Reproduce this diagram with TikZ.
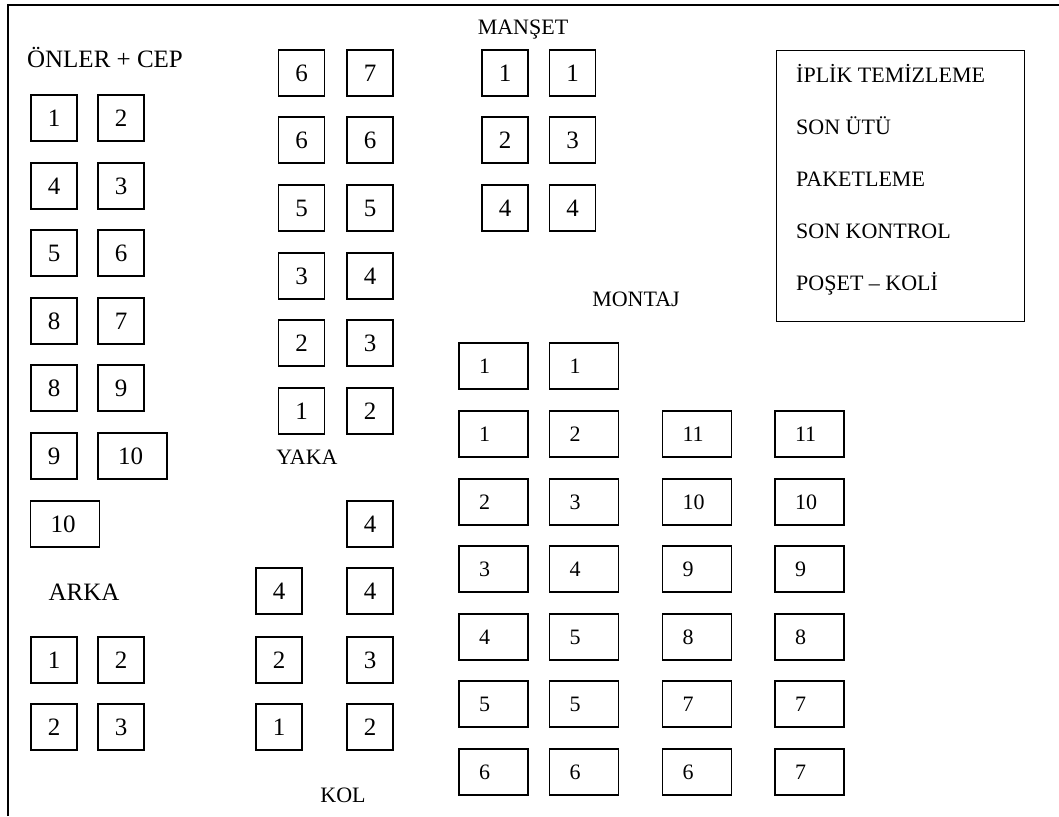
\documentclass[tikz,border=0pt]{standalone}
\usepackage{fontspec}
\setmainfont{Liberation Serif}
\newcommand{\numsz}{\fontsize{25}{30}\selectfont}
\newcommand{\labsz}{\fontsize{22}{26}\selectfont}

\begin{document}
\begin{tikzpicture}[x=1pt,y=-1pt,
    kutu/.style={draw, line width=1.2pt, minimum size=46pt, inner sep=0pt, font=\numsz},
    genis/.style={draw, line width=1.2pt, minimum height=46pt, text width=29pt, inner xsep=20pt, inner ysep=0pt, align=left, font=\labsz},
    baslik/.style={font=\labsz, inner sep=0pt, anchor=base}]
    \useasboundingbox (0,0) rectangle (1059,816);
    % frame
    \draw[line width=1.5pt] (8,816) -- (8,5) -- (1059,5);

    % Onler + cep
    \node[baslik, font=\numsz] (onler) at (105,67) {ÖNLER + CEP};
    \node[kutu] (o1a) at (54,118) {1};
    \node[kutu] (o1b) at (121,118) {2};
    \node[kutu] (o2a) at (54,186) {4};
    \node[kutu] (o2b) at (121,186) {3};
    \node[kutu] (o3a) at (54,253) {5};
    \node[kutu] (o3b) at (121,253) {6};
    \node[kutu] (o4a) at (54,321) {8};
    \node[kutu] (o4b) at (121,321) {7};
    \node[kutu] (o5a) at (54,388) {8};
    \node[kutu] (o5b) at (121,388) {9};
    \node[kutu] (o6a) at (54,456) {9};
    \node[genis, font=\numsz] (o6b) at (132.5,456) {10};
    \node[genis, font=\numsz] (o7a) at (65,524) {10};

    % Arka
    \node[baslik, font=\numsz] (arka) at (84,600) {ARKA};
    \node[kutu] (a1a) at (54,660) {1};
    \node[kutu] (a1b) at (121,660) {2};
    \node[kutu] (a2a) at (54,727) {2};
    \node[kutu] (a2b) at (121,727) {3};

    % Yaka
    \node[kutu] (y1a) at (301.5,73) {6};
    \node[kutu] (y1b) at (370,73) {7};
    \node[kutu] (y2a) at (301.5,140) {6};
    \node[kutu] (y2b) at (370,140) {6};
    \node[kutu] (y3a) at (301.5,208) {5};
    \node[kutu] (y3b) at (370,208) {5};
    \node[kutu] (y4a) at (301.5,276) {3};
    \node[kutu] (y4b) at (370,276) {4};
    \node[kutu] (y5a) at (301.5,343) {2};
    \node[kutu] (y5b) at (370,343) {3};
    \node[kutu] (y6a) at (301.5,411) {1};
    \node[kutu] (y6b) at (370,411) {2};
    \node[baslik] (yaka) at (307,464) {YAKA};

    % Kol
    \node[kutu] (k1b) at (370,524) {4};
    \node[kutu] (k2a) at (279,591) {4};
    \node[kutu] (k2b) at (370,591) {4};
    \node[kutu] (k3a) at (279,660) {2};
    \node[kutu] (k3b) at (370,660) {3};
    \node[kutu] (k4a) at (279,727) {1};
    \node[kutu] (k4b) at (370,727) {2};
    \node[baslik] (kol) at (343,802) {KOL};

    % Manset
    \node[baslik] (manset) at (523,35) {MANŞET};
    \node[kutu] (m1a) at (505,73) {1};
    \node[kutu] (m1b) at (572.5,73) {1};
    \node[kutu] (m2a) at (505,140) {2};
    \node[kutu] (m2b) at (572.5,140) {3};
    \node[kutu] (m3a) at (505,208) {4};
    \node[kutu] (m3b) at (572.5,208) {4};

    % Montaj
    \node[baslik] (montaj) at (636,306) {MONTAJ};
    \node[genis] (t1a) at (493.5,366) {1};
    \node[genis] (t1b) at (584,366) {1};
    \node[genis] (t2a) at (493.5,434) {1};
    \node[genis] (t2b) at (584,434) {2};
    \node[genis] (t2c) at (697,434) {11};
    \node[genis] (t2d) at (809.5,434) {11};
    \node[genis] (t3a) at (493.5,502) {2};
    \node[genis] (t3b) at (584,502) {3};
    \node[genis] (t3c) at (697,502) {10};
    \node[genis] (t3d) at (809.5,502) {10};
    \node[genis] (t4a) at (493.5,569) {3};
    \node[genis] (t4b) at (584,569) {4};
    \node[genis] (t4c) at (697,569) {9};
    \node[genis] (t4d) at (809.5,569) {9};
    \node[genis] (t5a) at (493.5,637) {4};
    \node[genis] (t5b) at (584,637) {5};
    \node[genis] (t5c) at (697,637) {8};
    \node[genis] (t5d) at (809.5,637) {8};
    \node[genis] (t6a) at (493.5,704) {5};
    \node[genis] (t6b) at (584,704) {5};
    \node[genis] (t6c) at (697,704) {7};
    \node[genis] (t6d) at (809.5,704) {7};
    \node[genis] (t7a) at (493.5,772) {6};
    \node[genis] (t7b) at (584,772) {6};
    \node[genis] (t7c) at (697,772) {6};
    \node[genis] (t7d) at (809.5,772) {7};

    % son islemler
    \node[draw, line width=1.2pt, minimum width=248pt, minimum height=271pt, anchor=north west] (sonislem) at (776,50) {};
    \node[font=\labsz, inner sep=0pt, anchor=base west] (iplik) at (796,82) {İPLİK TEMİZLEME};
    \node[font=\labsz, inner sep=0pt, anchor=base west] (utu) at (796,134) {SON ÜTÜ};
    \node[font=\labsz, inner sep=0pt, anchor=base west] (paket) at (796,186) {PAKETLEME};
    \node[font=\labsz, inner sep=0pt, anchor=base west] (kontrol) at (796,238) {SON KONTROL};
    \node[font=\labsz, inner sep=0pt, anchor=base west] (koli) at (796,290) {POŞET – KOLİ};
\end{tikzpicture}
\end{document}
